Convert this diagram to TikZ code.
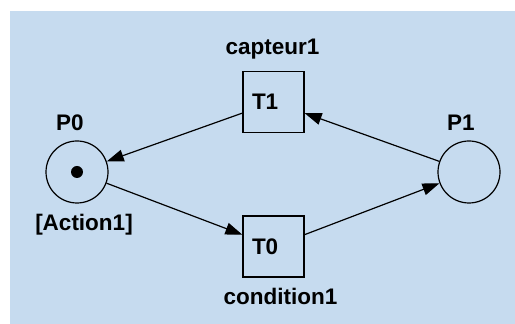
\documentclass[tikz,border=0pt]{standalone}
\usepackage{fontspec}
\setmainfont{Liberation Sans}
\usetikzlibrary{arrows.meta}
\definecolor{bgblue}{RGB}{198,219,239}

\begin{document}
\begin{tikzpicture}[x=1pt,y=1pt,
    place/.style={draw,circle,line width=1.2pt,minimum size=62pt,inner sep=0pt},
    trans/.style={draw,rectangle,line width=1.2pt,minimum size=61pt,inner sep=9pt,
        text width=43pt,align=left,font=\bfseries\fontsize{22.5}{26}\selectfont},
    tok/.style={fill,circle,minimum size=12pt,inner sep=0pt},
    lbl/.style={anchor=base,inner sep=0pt,font=\bfseries\fontsize{22.5}{26}\selectfont},
    flow/.style={-{Triangle[length=17pt,width=12pt]},line width=1.2pt}]
    \useasboundingbox (0,0) rectangle (515,324);
    \fill[bgblue] (10,0) rectangle (515,313);
    % places and transitions
    \node[place] (P0) at (77,152) {};
    \node[place] (P1) at (469,152) {};
    \node[tok] (tok0) at (P0) {};
    \node[trans] (T1) at (273.5,222) {T1};
    \node[trans] (T0) at (273.5,77.5) {T0};
    % labels
    \node[lbl] (nameP0) at (70,193.3) {P0};
    \node[lbl] (nameP1) at (461,193.3) {P1};
    \node[lbl] (actP0) at (84,93) {[Action1]};
    \node[lbl] (condT1) at (272.5,269.7) {capteur1};
    \node[lbl] (condT0) at (280.5,19) {condition1};
    % arcs
    \draw[flow] (T1) -- (P0);
    \draw[flow] (P0) -- (T0);
    \draw[flow] (T0) -- (P1);
    \draw[flow] (P1) -- (T1);
\end{tikzpicture}
\end{document}
